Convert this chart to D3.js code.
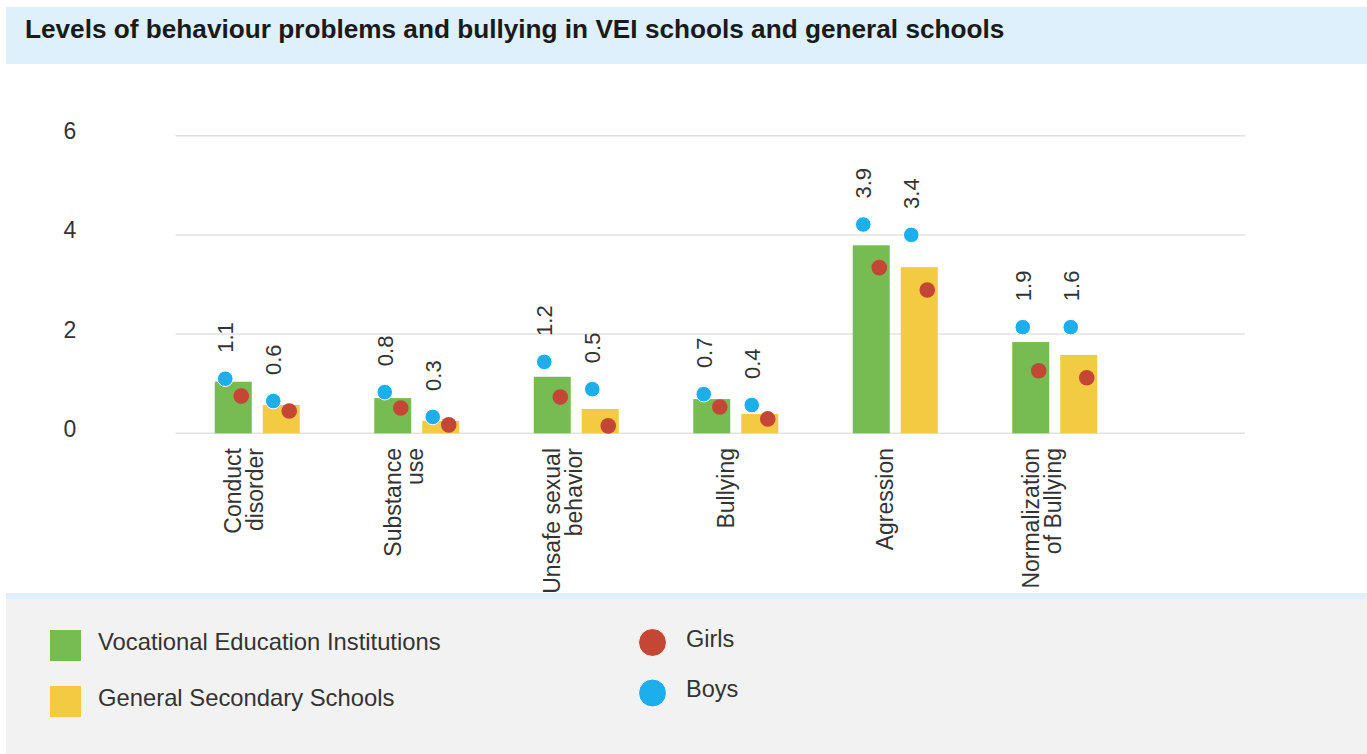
<!DOCTYPE html>
<html>
<head>
<meta charset="utf-8">
<script src="https://cdn.jsdelivr.net/npm/d3@7"></script>
<style>
  body { margin:0; background:#fff; }
  text { font-family: "Liberation Sans", Arial, sans-serif; }
</style>
</head>
<body>
<div class="boundary"></div>
<script>
// data
var categories = [["Conduct","disorder"],["Substance","use"],["Unsafe sexual","behavior"],["Bullying"],["Agression"],["Normalization","of Bullying"]];
var veiValues  = [1.04, 0.71, 1.14, 0.69, 3.79, 1.84];
var gssValues  = [0.57, 0.25, 0.49, 0.39, 3.35, 1.58];
var veiLabels  = ["1.1","0.8","1.2","0.7","3.9","1.9"];
var gssLabels  = ["0.6","0.3","0.5","0.4","3.4","1.6"];
var veiBoys    = [1.10, 0.83, 1.44, 0.79, 4.21, 2.14];
var veiGirls   = [0.75, 0.51, 0.73, 0.53, 3.34, 1.26];
var gssBoys    = [0.65, 0.33, 0.89, 0.57, 4.00, 2.14];
var gssGirls   = [0.45, 0.17, 0.15, 0.29, 2.89, 1.12];
var yTicks     = [0, 2, 4, 6];
var seriesNames = ["Vocational Education Institutions","General Secondary Schools"];
var dotNames    = ["Girls","Boys"];

var width = 1367;
var height = 754;
var green = "#77bc52", yellow = "#f2cb43", red = "#c44736", blue = "#1cafec";

var svg = d3.select(".boundary").append("svg")
            .attr("width",width).attr("height",height)
            .style("display","block");

// title band
svg.append("rect").attr("x",6).attr("y",7).attr("width",width-6).attr("height",57).attr("fill","#ddf0fb");
svg.append("text").attr("x",25).attr("y",37.5)
   .attr("font-size",26.2).attr("font-weight","bold").attr("fill","#1a1a1a")
   .text("Levels of behaviour problems and bullying in VEI schools and general schools");

var y = d3.scaleLinear().domain([0,6]).range([433.3,135.7]);
var x = d3.scaleBand().domain(d3.range(categories.length)).range([177.5,1134.5]);
var xSub = d3.scaleBand().domain([0,1])
             .range([x.bandwidth()/2-42.5, x.bandwidth()/2+42.5]).paddingInner(0.229);

// grid lines + y labels
var grid = svg.append("g");
grid.selectAll("line").data(yTicks).enter().append("line")
    .attr("x1",175.5).attr("x2",1245)
    .attr("y1",function(d){return y(d);}).attr("y2",function(d){return y(d);})
    .attr("stroke","#e2e2e2").attr("stroke-width",1.5);
grid.selectAll("text").data(yTicks).enter().append("text")
    .attr("x",70).attr("y",function(d){return y(d)+3.5;})
    .attr("text-anchor","middle").attr("font-size",23).attr("fill","#333")
    .text(function(d){return d;});

// one record per bar
var bars = [];
categories.forEach(function(c,i){
  bars.push({i:i, s:0, v:veiValues[i], label:veiLabels[i], boys:veiBoys[i], girls:veiGirls[i], color:green});
  bars.push({i:i, s:1, v:gssValues[i], label:gssLabels[i], boys:gssBoys[i], girls:gssGirls[i], color:yellow});
});
function cx(d){ return x(d.i)+xSub(d.s)+xSub.bandwidth()/2; }

svg.append("g").selectAll("rect").data(bars).enter().append("rect")
   .attr("x",function(d){return x(d.i)+xSub(d.s);})
   .attr("y",function(d){return y(d.v);})
   .attr("width",xSub.bandwidth())
   .attr("height",function(d){return y(0)-y(d.v);})
   .attr("fill",function(d){return d.color;});

var dots = svg.append("g");
dots.selectAll("circle.boys").data(bars).enter().append("circle").classed("boys",true)
    .attr("cx",function(d){return cx(d)-8;}).attr("cy",function(d){return y(d.boys);})
    .attr("r",7.8).attr("fill",blue).attr("stroke","#fff").attr("stroke-width",1);
dots.selectAll("circle.girls").data(bars).enter().append("circle").classed("girls",true)
    .attr("cx",function(d){return cx(d)+8;}).attr("cy",function(d){return y(d.girls);})
    .attr("r",7.8).attr("fill",red);

// rotated value labels above bar / boys dot
svg.append("g").selectAll("text").data(bars).enter().append("text")
   .attr("transform",function(d){
      var top = Math.min(y(d.v), y(d.boys));
      return "translate("+cx(d)+","+(top-26)+") rotate(-90)";
   })
   .attr("font-size",22).attr("fill","#333")
   .text(function(d){return d.label;});

// category labels
var cats = svg.append("g").selectAll("g").data(categories).enter().append("g");
cats.each(function(lines,i){
  var mid = x(i)+x.bandwidth()/2;
  var offs = lines.length==1 ? [-2] : [-16, 6];
  var g = d3.select(this);
  lines.forEach(function(t,k){
    g.append("text")
     .attr("transform","translate("+(mid+offs[k])+",448) rotate(-90)")
     .attr("text-anchor","end").attr("font-size",23).attr("fill","#333")
     .text(t);
  });
});

// legend panel
svg.append("rect").attr("x",6).attr("y",593).attr("width",width-6).attr("height",6).attr("fill","#ddf0fb");
svg.append("rect").attr("x",6).attr("y",599).attr("width",width-6).attr("height",height-599).attr("fill","#f2f2f2");

var leg1 = svg.append("g").selectAll("g").data(seriesNames).enter().append("g")
              .attr("transform",function(d,i){return "translate(50,"+(630+i*56)+")";});
leg1.append("rect").attr("width",31).attr("height",31)
    .attr("fill",function(d,i){return i==0 ? green : yellow;});
leg1.append("text").attr("x",48).attr("y",20).attr("font-size",23.8).attr("fill","#333")
    .text(function(d){return d;});

var leg2 = svg.append("g").selectAll("g").data(dotNames).enter().append("g")
              .attr("transform",function(d,i){return "translate(652.5,"+(642.5+i*50.5)+")";});
leg2.append("circle").attr("r",14).attr("stroke","#fff").attr("stroke-width",1)
    .attr("fill",function(d,i){return i==0 ? red : blue;});
leg2.append("text").attr("x",33.5).attr("y",4).attr("font-size",23.5).attr("fill","#333")
    .text(function(d){return d;});
</script>
</body>
</html>
